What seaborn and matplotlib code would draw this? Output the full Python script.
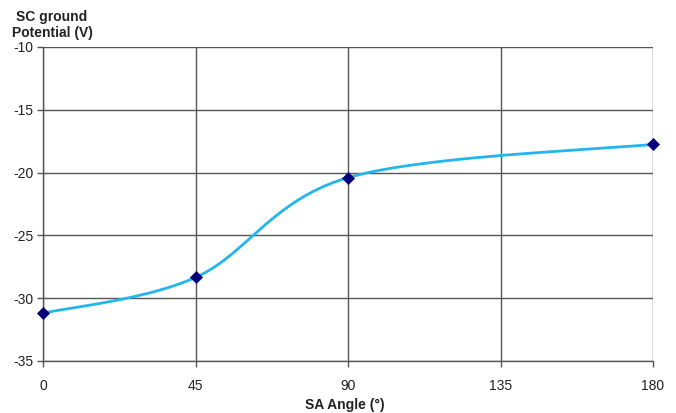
import numpy as np
import pandas as pd
import matplotlib
matplotlib.use('Agg')
import matplotlib.pyplot as plt
import seaborn as sns

# data
sa_angle = [0, 45, 90, 180]
sc_potential = [-31.2, -28.35, -20.4, -17.75]
x_ticks = [0, 45, 90, 135, 180]
y_ticks = [-35, -30, -25, -20, -15, -10]

sns.set_theme(style='white')
plt.rcParams['font.family'] = ['Liberation Sans', 'DejaVu Sans']
plt.rcParams['axes.unicode_minus'] = False

fig = plt.figure(figsize=(6.76, 4.13), dpi=100)
ax = fig.add_axes([43 / 676, 1 - 361 / 413, 610 / 676, 314 / 413])
ax.set_xlim(0, 180)
ax.set_ylim(-35, -10)


def excel_smooth(xs, ys, n=60):
    # Excel style smoothed line (bezier, tension 1/6) in pixel-like space
    sx, sy = 610 / 180.0, 314 / 25.0
    p = np.column_stack([np.array(xs) * sx, np.array(ys) * sy])
    p = np.vstack([p[0], p, p[-1]])
    out = []
    t = np.linspace(0, 1, n)[:, None]
    for i in range(1, len(p) - 2):
        p0, p1 = p[i], p[i + 1]
        c1 = p0 + (p[i + 1] - p[i - 1]) / 6
        c2 = p1 - (p[i + 2] - p[i]) / 6
        seg = ((1 - t) ** 3) * p0 + 3 * ((1 - t) ** 2) * t * c1 + 3 * (1 - t) * t ** 2 * c2 + t ** 3 * p1
        out.append(seg if i == 1 else seg[1:])
    out = np.vstack(out)
    return out[:, 0] / sx, out[:, 1] / sy


cx, cy = excel_smooth(sa_angle, sc_potential)
curve = pd.DataFrame({'angle': cx, 'pot': cy})
pts = pd.DataFrame({'angle': sa_angle, 'pot': sc_potential})

sns.lineplot(data=curve, x='angle', y='pot', sort=False, color='#22b6ee', lw=2, ax=ax, zorder=3)
sns.scatterplot(data=pts, x='angle', y='pot', marker='D', s=38, color='#00007a', edgecolor='#00007a',
                ax=ax, zorder=4, clip_on=False)

ax.set_xticks(x_ticks)
ax.set_yticks(y_ticks)
ax.grid(True, color='#555555', lw=1.0)
ax.set_axisbelow(True)
for s in ['top', 'right']:
    ax.spines[s].set_visible(False)
for s in ['left', 'bottom']:
    ax.spines[s].set_color('#555555')
    ax.spines[s].set_linewidth(1.0)
ax.tick_params(axis='both', which='both', length=4, width=1, color='#555555', labelsize=10,
               labelcolor='#222222', direction='out', left=True, bottom=True)
ax.tick_params(axis='x', pad=9)
ax.tick_params(axis='y', pad=3)
ax.set_xlabel('')
ax.set_ylabel('')

fig.text(52 / 676, 1 - 40 / 413, 'SC ground\nPotential (V)', fontsize=10, fontweight='bold', color='#222222',
         ha='center', va='bottom', multialignment='center', linespacing=1.2)
fig.text(345 / 676, 1 - 405 / 413, 'SA Angle (°)', fontsize=10, fontweight='bold', color='#222222',
         ha='center', va='center')

fig.savefig('out.png', dpi=100)
